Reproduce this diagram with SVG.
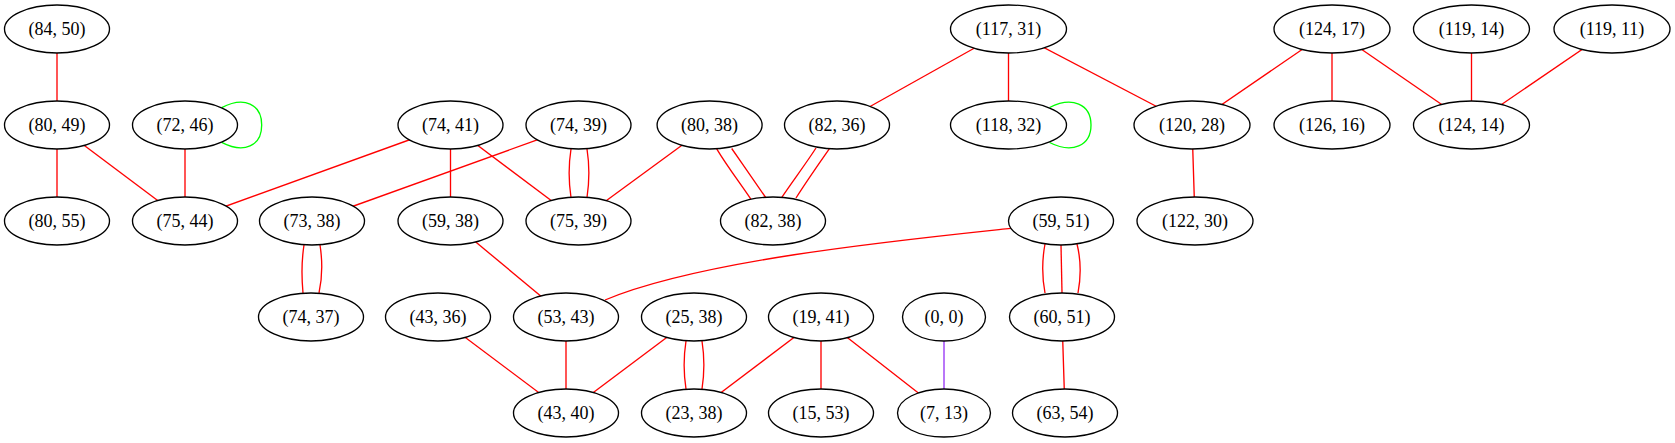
<svg xmlns="http://www.w3.org/2000/svg" width="1675" height="443" viewBox="0 0 1675 443">
<style>
.n ellipse{fill:#fff;stroke:#000;stroke-width:1.33}
.n text{font-family:"Liberation Serif","Times New Roman",serif;font-size:18px;fill:#000;text-anchor:middle}
.e{fill:none;stroke:#ff0000;stroke-width:1.33}
.g{fill:none;stroke:#00ff00;stroke-width:1.33}
.p{fill:none;stroke:#a855f7;stroke-width:1.6}
</style>
<rect width="1675" height="443" fill="#fff"/>
<g id="edges">
<path class="e" d="M57,29 L57,125"/>
<path class="e" d="M57,125 L57,221"/>
<path class="e" d="M57,125 L185,221"/>
<path class="e" d="M185,125 L185,221"/>
<path class="e" d="M450.5,125 L185,221"/>
<path class="e" d="M450.5,125 L450.5,221"/>
<path class="e" d="M450.5,125 L578.5,221"/>
<path class="e" d="M578.5,125 L312,221"/>
<path class="e" d="M571,149 C568.5,165 568.5,181 571,197.5"/>
<path class="e" d="M587,149 C589.5,165 589.5,181 587,197.5"/>
<path class="e" d="M709.6,125 L578.5,221"/>
<path class="e" d="M716.7,148.8 C727,166 740,183 751,199.3"/>
<path class="e" d="M731.7,148.5 C743,165 755,182 765.7,197.5"/>
<path class="e" d="M816,148 C805,165 792,182 780.7,199"/>
<path class="e" d="M829.3,148.8 C818,165 806,182 796,198"/>
<path class="e" d="M1008.5,29 L837,125"/>
<path class="e" d="M1008.5,29 L1008.5,125"/>
<path class="e" d="M1008.5,29 L1192,125"/>
<path class="e" d="M1332,29 L1192,125"/>
<path class="e" d="M1332,29 L1332,125"/>
<path class="e" d="M1332,29 L1471.5,125"/>
<path class="e" d="M1471.5,29 L1471.5,125"/>
<path class="e" d="M1612,29 L1471.5,125"/>
<path class="e" d="M1192,125 L1195,221"/>
<path class="e" d="M304,245 C301.5,261 301.5,277 303,293"/>
<path class="e" d="M320,245 C322.5,261 322.5,277 319,293"/>
<path class="e" d="M450.5,221 L566,317"/>
<path class="e" d="M1010.7,228.3 C900,240 700,260 605,300"/>
<path class="e" d="M1045,244 C1042,260 1042,277 1045,293"/>
<path class="e" d="M1061,245 L1062,293"/>
<path class="e" d="M1077,244 C1081,260 1081,277 1078,293"/>
<path class="e" d="M1062,317 L1065,413"/>
<path class="e" d="M438,317 L566,413"/>
<path class="e" d="M566,317 L566,413"/>
<path class="e" d="M694,317 L566,413"/>
<path class="e" d="M686,341 C683.5,357 683.5,373 686,389"/>
<path class="e" d="M702,341 C704.5,357 704.5,373 702,389"/>
<path class="e" d="M821,317 L694,413"/>
<path class="e" d="M821,317 L821,413"/>
<path class="e" d="M821,317 L944,413"/>
<path class="p" d="M944,317 L944,413"/>
<path class="g" d="M221.7,107.7 C244,96 261.7,104 261.7,125 C261.7,146 244,154 221.7,142.3"/>
<path class="g" d="M1049.6,107.5 C1072,96 1091,104 1091,125 C1091,146 1072,154 1049.6,142.5"/>
</g>
<g id="n_84_50" class="n"><ellipse cx="57" cy="29" rx="52.5" ry="24"/><text x="57" y="35">(84, 50)</text></g>
<g id="n_117_31" class="n"><ellipse cx="1008.5" cy="29" rx="58" ry="24"/><text x="1008.5" y="35">(117, 31)</text></g>
<g id="n_124_17" class="n"><ellipse cx="1332" cy="29" rx="58" ry="24"/><text x="1332" y="35">(124, 17)</text></g>
<g id="n_119_14" class="n"><ellipse cx="1471.5" cy="29" rx="58" ry="24"/><text x="1471.5" y="35">(119, 14)</text></g>
<g id="n_119_11" class="n"><ellipse cx="1612" cy="29" rx="58" ry="24"/><text x="1612" y="35">(119, 11)</text></g>
<g id="n_80_49" class="n"><ellipse cx="57" cy="125" rx="52.5" ry="24"/><text x="57" y="131">(80, 49)</text></g>
<g id="n_72_46" class="n"><ellipse cx="185" cy="125" rx="52.5" ry="24"/><text x="185" y="131">(72, 46)</text></g>
<g id="n_74_41" class="n"><ellipse cx="450.5" cy="125" rx="52.5" ry="24"/><text x="450.5" y="131">(74, 41)</text></g>
<g id="n_74_39" class="n"><ellipse cx="578.5" cy="125" rx="52.5" ry="24"/><text x="578.5" y="131">(74, 39)</text></g>
<g id="n_80_38" class="n"><ellipse cx="709.6" cy="125" rx="52.5" ry="24"/><text x="709.6" y="131">(80, 38)</text></g>
<g id="n_82_36" class="n"><ellipse cx="837" cy="125" rx="52.5" ry="24"/><text x="837" y="131">(82, 36)</text></g>
<g id="n_118_32" class="n"><ellipse cx="1008.5" cy="125" rx="58" ry="24"/><text x="1008.5" y="131">(118, 32)</text></g>
<g id="n_120_28" class="n"><ellipse cx="1192" cy="125" rx="58" ry="24"/><text x="1192" y="131">(120, 28)</text></g>
<g id="n_126_16" class="n"><ellipse cx="1332" cy="125" rx="58" ry="24"/><text x="1332" y="131">(126, 16)</text></g>
<g id="n_124_14" class="n"><ellipse cx="1471.5" cy="125" rx="58" ry="24"/><text x="1471.5" y="131">(124, 14)</text></g>
<g id="n_80_55" class="n"><ellipse cx="57" cy="221" rx="52.5" ry="24"/><text x="57" y="227">(80, 55)</text></g>
<g id="n_75_44" class="n"><ellipse cx="185" cy="221" rx="52.5" ry="24"/><text x="185" y="227">(75, 44)</text></g>
<g id="n_73_38" class="n"><ellipse cx="312" cy="221" rx="52.5" ry="24"/><text x="312" y="227">(73, 38)</text></g>
<g id="n_59_38" class="n"><ellipse cx="450.5" cy="221" rx="52.5" ry="24"/><text x="450.5" y="227">(59, 38)</text></g>
<g id="n_75_39" class="n"><ellipse cx="578.5" cy="221" rx="52.5" ry="24"/><text x="578.5" y="227">(75, 39)</text></g>
<g id="n_82_38" class="n"><ellipse cx="773" cy="221" rx="52.5" ry="24"/><text x="773" y="227">(82, 38)</text></g>
<g id="n_59_51" class="n"><ellipse cx="1061" cy="221" rx="52.5" ry="24"/><text x="1061" y="227">(59, 51)</text></g>
<g id="n_122_30" class="n"><ellipse cx="1195" cy="221" rx="58" ry="24"/><text x="1195" y="227">(122, 30)</text></g>
<g id="n_74_37" class="n"><ellipse cx="311" cy="317" rx="52.5" ry="24"/><text x="311" y="323">(74, 37)</text></g>
<g id="n_43_36" class="n"><ellipse cx="438" cy="317" rx="52.5" ry="24"/><text x="438" y="323">(43, 36)</text></g>
<g id="n_53_43" class="n"><ellipse cx="566" cy="317" rx="52.5" ry="24"/><text x="566" y="323">(53, 43)</text></g>
<g id="n_25_38" class="n"><ellipse cx="694" cy="317" rx="52.5" ry="24"/><text x="694" y="323">(25, 38)</text></g>
<g id="n_19_41" class="n"><ellipse cx="821" cy="317" rx="52.5" ry="24"/><text x="821" y="323">(19, 41)</text></g>
<g id="n_0_0" class="n"><ellipse cx="944" cy="317" rx="41.5" ry="24"/><text x="944" y="323">(0, 0)</text></g>
<g id="n_60_51" class="n"><ellipse cx="1062" cy="317" rx="52.5" ry="24"/><text x="1062" y="323">(60, 51)</text></g>
<g id="n_43_40" class="n"><ellipse cx="566" cy="413" rx="52.5" ry="24"/><text x="566" y="419">(43, 40)</text></g>
<g id="n_23_38" class="n"><ellipse cx="694" cy="413" rx="52.5" ry="24"/><text x="694" y="419">(23, 38)</text></g>
<g id="n_15_53" class="n"><ellipse cx="821" cy="413" rx="52.5" ry="24"/><text x="821" y="419">(15, 53)</text></g>
<g id="n_7_13" class="n"><ellipse cx="944" cy="413" rx="46.5" ry="24"/><text x="944" y="419">(7, 13)</text></g>
<g id="n_63_54" class="n"><ellipse cx="1065" cy="413" rx="52.5" ry="24"/><text x="1065" y="419">(63, 54)</text></g>
</svg>
